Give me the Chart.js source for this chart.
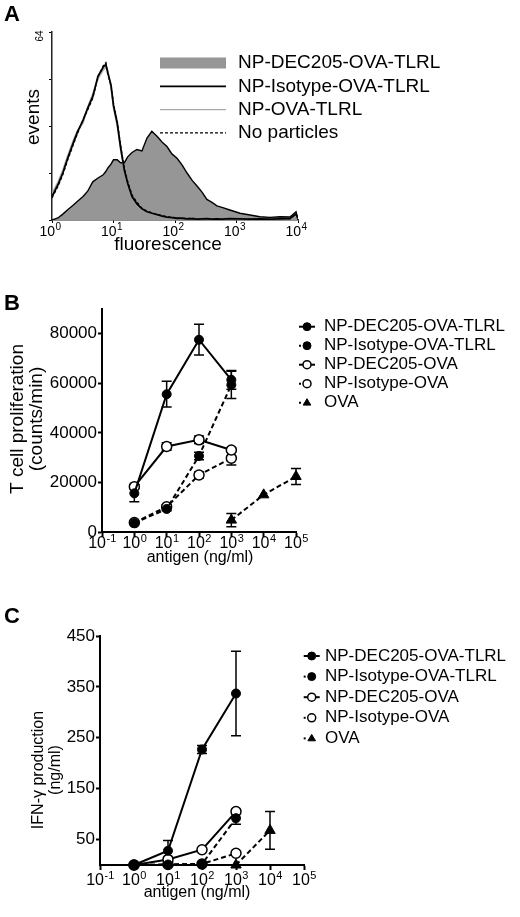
<!DOCTYPE html>
<html>
<head>
<meta charset="utf-8">
<script src="https://cdn.jsdelivr.net/npm/chart.js@4.4.1/dist/chart.umd.min.js"></script>
<style>
  body { margin: 0; background: #fff; }
  #fig { position: relative; width: 520px; height: 917px; font-family: "Liberation Sans", Arial, sans-serif; }
  canvas { position: absolute; left: 0; }
  .panel { position: absolute; left: 4px; font-weight: bold; font-size: 22px; line-height: 22px; }
</style>
</head>
<body>
<div id="fig">
  <canvas id="histA" width="520" height="260" style="top:0"></canvas>
  <canvas id="prolifB" width="520" height="328" style="top:262px"></canvas>
  <canvas id="ifnC" width="520" height="327" style="top:590px"></canvas>
  <div class="panel" style="top:3px">A</div>
  <div class="panel" style="top:292px">B</div>
  <div class="panel" style="top:605px">C</div>
</div>
<script>
const FONT = '"Liberation Sans", Arial, sans-serif';

// Panel A - histogram (fluorescence channel vs events)
const channels = [1, 1.25, 1.5, 1.8, 2.2, 2.6, 3.2, 3.8, 4.6, 5.6, 6.8, 7.5, 8.1, 9.1, 10, 11.5, 13, 15, 17, 20,
  24, 29, 35, 42, 51, 62, 74, 89, 108, 130, 157, 190, 230, 275, 330, 400, 480, 580, 780, 1140,
  1660, 2400, 3500, 5100, 7400, 9300, 10000];
const dec205TlrlEvents = [0, 0.7, 2, 3.5, 5, 6.4, 8, 9.8, 13, 14.3, 15.4, 16.5, 17.7, 19, 20.5, 20.5, 19.5, 19.5, 21.5, 23,
  24, 23.5, 27.9, 30.2, 28.5, 26.5, 25, 22.5, 21, 18.8, 16, 13.5, 11.5, 9.5, 7, 6, 4.8, 4.3, 3.4, 2.3,
  1.7, 1.1, 0.9, 1.1, 1.0, 2.8, 0];
const isoTlrlEvents = [8, 12, 16, 21, 26, 30, 34, 38, 42, 49, 52, 53, 50, 46, 39, 33, 25, 17, 12.5, 8,
  5.5, 3.8, 2.8, 2.3, 1.8, 1.3, 1.0, 0.8, 0.6, 0.6, 0.4, 0.5, 0.3, 0.4, 0.5, 0.3, 0.4, 0.3, 0.5, 0.4,
  0.3, 0.4, 0.3, 0.4, 0.5, 2, 0.5];
const ovaTlrlEvents = [9, 13, 17, 22, 27, 30.5, 33, 38.5, 43, 48, 51, 52, 51, 45, 38, 32, 24, 16.5, 12, 7.5,
  5, 3.5, 2.6, 2.1, 1.6, 1.2, 0.9, 0.7, 0.6, 0.5, 0.5, 0.4, 0.4, 0.3, 0.4, 0.4, 0.3, 0.4, 0.3, 0.4,
  0.3, 0.3, 0.4, 0.3, 0.4, 1.5, 0.4];
const noParticleEvents = [7.5, 11.5, 15.5, 20.5, 25.5, 29.5, 34, 37.5, 41.5, 48.5, 52.5, 53.5, 49.5, 45.5, 39.5, 33.5, 25.5, 17.5, 13, 8.5,
  6, 4, 3, 2.4, 1.9, 1.4, 1.1, 0.9, 0.7, 0.6, 0.5, 0.5, 0.4, 0.4, 0.3, 0.4, 0.3, 0.4, 0.4, 0.3,
  0.4, 0.3, 0.3, 0.4, 0.4, 1.8, 0.4];
const histLabels = ['NP-DEC205-OVA-TLRL', 'NP-Isotype-OVA-TLRL', 'NP-OVA-TLRL', 'No particles'];
const fluoTicks = [1, 10, 100, 1000, 10000];
const eventTicks = [0, 16, 32, 48, 64];

// Panels B and C - dose response
const seriesLabels = ['NP-DEC205-OVA-TLRL', 'NP-Isotype-OVA-TLRL', 'NP-DEC205-OVA', 'NP-Isotype-OVA', 'OVA'];
const doses = [1, 10, 100, 1000];
const ovaDosesB = [1000, 10000, 100000];
const ovaDosesC = [1000, 10000];
const doseTicks = [0.1, 1, 10, 100, 1000, 10000, 100000];

// B: T cell proliferation (counts/min)
const prolifDec205Tlrl = [15600, 55600, 77600, 61400];
const prolifDec205TlrlErr = [3400, 5200, 6200, 3800];
const prolifIsoTlrl = [3600, 9300, 30700, 59400];
const prolifIsoTlrlErr = [0, 700, 1500, 5500];
const prolifDec205 = [18300, 34500, 37200, 33100];
const prolifDec205Err = [800, 1500, 1500, 800];
const prolifIso = [3800, 10200, 23000, 29800];
const prolifIsoErr = [500, 800, 1200, 2800];
const prolifOva = [4800, 15000, 22400];
const prolifOvaErr = [2700, 0, 3200];
const prolifTicks = [0, 20000, 40000, 60000, 80000];

// C: IFN-gamma production (ng/ml)
const ifnDec205Tlrl = [0, 28, 227, 337];
const ifnDec205TlrlErr = [0, 20, 8, 83];
const ifnIsoTlrl = [0, 1, 2, 92];
const ifnIsoTlrlErr = [0, 0, 0, 12];
const ifnDec205 = [0, 11, 30, 105];
const ifnDec205Err = [0, 2, 2, 4];
const ifnIso = [0, 1, 2, 23];
const ifnIsoErr = [0, 0, 0, 3];
const ifnOva = [0, 68];
const ifnOvaErr = [0, 37];
const ifnTicks = [50, 150, 250, 350, 450];

Chart.defaults.font.family = FONT;
Chart.defaults.color = '#000';

// error bars drawn under the markers
const errorBars = {
  id: 'errorBars',
  beforeDatasetsDraw(chart) {
    const ctx = chart.ctx, xs = chart.scales.x, ys = chart.scales.y;
    ctx.save();
    ctx.strokeStyle = '#000';
    ctx.lineWidth = 1.5;
    chart.data.datasets.forEach(ds => {
      if (!ds.errors) return;
      ds.data.forEach((p, j) => {
        const e = ds.errors[j];
        if (!e) return;
        const x = xs.getPixelForValue(p.x);
        const top = ys.getPixelForValue(p.y + e);
        const bot = ys.getPixelForValue(Math.max(p.y - e, 0));
        ctx.beginPath();
        ctx.moveTo(x, top); ctx.lineTo(x, bot);
        ctx.moveTo(x - 5, top); ctx.lineTo(x + 5, top);
        ctx.moveTo(x - 5, bot); ctx.lineTo(x + 5, bot);
        ctx.stroke();
      });
    });
    ctx.restore();
  }
};

// 10^n tick labels on the log axes
const powerTicks = {
  id: 'powerTicks',
  afterDraw(chart, args, o) {
    const scale = chart.scales.x, ctx = chart.ctx;
    const base = o.size + 'px ' + FONT, sup = o.sup + 'px ' + FONT;
    ctx.save();
    ctx.fillStyle = '#000';
    ctx.textBaseline = 'alphabetic';
    ctx.textAlign = 'left';
    scale.ticks.forEach(t => {
      const exp = String(Math.round(Math.log10(t.value)));
      const px = scale.getPixelForValue(t.value);
      ctx.font = base;
      const wb = ctx.measureText('10').width;
      ctx.font = sup;
      const we = ctx.measureText(exp).width;
      const start = px - (wb + we) / 2 + (o.shift || 0);
      ctx.font = base;
      ctx.fillText('10', start, o.y);
      ctx.font = sup;
      ctx.fillText(exp, start + wb + 0.5, o.y - o.raise);
    });
    ctx.restore();
  }
};

// free text: axis titles etc.
const figText = {
  id: 'figText',
  afterDraw(chart, args, o) {
    const ctx = chart.ctx;
    o.items.forEach(it => {
      ctx.save();
      ctx.fillStyle = '#000';
      ctx.font = it.size + 'px ' + FONT;
      ctx.textAlign = 'center';
      ctx.textBaseline = 'middle';
      ctx.translate(it.x, it.y);
      if (it.rot) ctx.rotate(it.rot * Math.PI / 180);
      ctx.fillText(it.text, 0, 0);
      ctx.restore();
    });
  }
};

function drawMarker(ctx, ds, x, y, r) {
  ctx.fillStyle = ds.pointBackgroundColor;
  ctx.strokeStyle = ds.pointBorderColor;
  ctx.lineWidth = ds.pointBorderWidth;
  ctx.setLineDash([]);
  ctx.beginPath();
  if (ds.pointStyle === 'triangle') {
    ctx.moveTo(x, y - r);
    ctx.lineTo(x + r * 0.95, y + r * 0.6);
    ctx.lineTo(x - r * 0.95, y + r * 0.6);
    ctx.closePath();
  } else {
    ctx.arc(x, y, r, 0, Math.PI * 2);
  }
  ctx.fill();
  ctx.stroke();
}

// legend with line + marker (B, C)
const markerLegend = {
  id: 'markerLegend',
  afterDraw(chart, args, o) {
    const ctx = chart.ctx;
    chart.data.datasets.forEach((ds, i) => {
      const y = o.y + i * o.step;
      const dashed = ds.borderDash.length > 0;
      ctx.save();
      ctx.strokeStyle = '#000';
      ctx.lineWidth = 2;
      ctx.beginPath();
      if (dashed) {
        ctx.moveTo(o.x - 8, y); ctx.lineTo(o.x - 6, y);
      } else {
        ctx.moveTo(o.x - 8, y); ctx.lineTo(o.x + 8, y);
      }
      ctx.stroke();
      drawMarker(ctx, ds, o.x, y, o.radius);
      ctx.fillStyle = '#000';
      ctx.font = o.size + 'px ' + FONT;
      ctx.textBaseline = 'middle';
      ctx.textAlign = 'left';
      ctx.fillText(ds.label, o.textX, y);
      ctx.restore();
    });
  }
};

// legend with swatches (A)
const swatchLegend = {
  id: 'swatchLegend',
  afterDraw(chart, args, o) {
    const ctx = chart.ctx;
    chart.data.datasets.forEach((ds, i) => {
      const y = o.y + i * o.step;
      ctx.save();
      if (ds.fill) {
        ctx.fillStyle = ds.backgroundColor;
        ctx.fillRect(o.x0, y - 5.5, o.x1 - o.x0, 11);
      } else {
        ctx.strokeStyle = ds.borderColor;
        ctx.lineWidth = ds.borderWidth;
        ctx.setLineDash(ds.borderDash || []);
        ctx.beginPath();
        ctx.moveTo(o.x0, y); ctx.lineTo(o.x1, y);
        ctx.stroke();
      }
      ctx.fillStyle = '#000';
      ctx.font = o.size + 'px ' + FONT;
      ctx.textBaseline = 'middle';
      ctx.fillText(ds.label, o.textX, y);
      ctx.restore();
    });
  }
};

function fixedTicks(list) {
  return s => { s.ticks = list.map(v => ({ value: v })); };
}

function axisGrid(len, w) {
  return { display: true, drawOnChartArea: false, drawTicks: true, tickLength: len, tickWidth: w, tickColor: '#000' };
}

function histSeries(label, values, extra) {
  return Object.assign({
    label: label,
    data: channels.map((c, i) => ({ x: c, y: values[i] })),
    borderColor: '#000',
    borderWidth: 1.4,
    borderDash: [],
    pointRadius: 0,
    tension: 0,
    fill: false
  }, extra);
}

function doseSeries(xsList, ysList, errList) {
  return seriesLabels.map((label, i) => {
    const solid = i === 0 || i === 2;
    const open = i === 2 || i === 3;
    const tri = i === 4;
    return {
      label: label,
      data: xsList[i].map((x, j) => ({ x: x, y: ysList[i][j] })),
      errors: errList[i],
      borderColor: '#000',
      borderWidth: 2,
      borderDash: solid ? [] : [5, 3],
      pointStyle: tri ? 'triangle' : 'circle',
      pointRadius: open ? 5 : (tri ? 6 : 4.5),
      pointBackgroundColor: open ? '#fff' : '#000',
      pointBorderColor: '#000',
      pointBorderWidth: open ? 1.5 : 1,
      tension: 0,
      fill: false,
      clip: false
    };
  });
}

const common = {
  responsive: false,
  animation: false,
  devicePixelRatio: 1,
  events: []
};

// Panel A
new Chart(document.getElementById('histA'), {
  type: 'line',
  data: {
    datasets: [
      histSeries(histLabels[0], dec205TlrlEvents, { fill: 'origin', backgroundColor: 'rgb(150,150,150)', order: 2 }),
      histSeries(histLabels[1], isoTlrlEvents, { order: 1, borderWidth: 1.8 }),
      histSeries(histLabels[2], ovaTlrlEvents, { borderColor: 'rgb(170,170,170)', order: 1 }),
      histSeries(histLabels[3], noParticleEvents, { borderDash: [3, 2], order: 1 })
    ]
  },
  options: Object.assign({}, common, {
    layout: { padding: { left: 52, top: 32, right: 222, bottom: 40 } },
    plugins: {
      legend: { display: false },
      tooltip: { enabled: false },
      powerTicks: { y: 236, size: 14, sup: 10, raise: 6, shift: -2 },
      swatchLegend: { x0: 160, x1: 226, textX: 238, y: 63, step: 23.3, size: 19 },
      figText: { items: [
        { text: 'events', x: 34, y: 117, rot: -90, size: 19 },
        { text: 'fluorescence', x: 168, y: 245, size: 19 },
        { text: '64', x: 40, y: 36, rot: -90, size: 10 }
      ] }
    },
    scales: {
      x: {
        type: 'logarithmic', min: 1, max: 10000,
        afterBuildTicks: fixedTicks(fluoTicks),
        afterFit: s => { s.height = 0; },
        ticks: { display: false },
        grid: axisGrid(3, 1),
        border: { display: true, color: '#222', width: 1.5 }
      },
      y: {
        min: 0, max: 64,
        afterBuildTicks: fixedTicks(eventTicks),
        afterFit: s => { s.width = 0; },
        ticks: { display: false },
        grid: axisGrid(3, 1),
        border: { display: true, color: '#222', width: 1.5 }
      }
    }
  }),
  plugins: [powerTicks, swatchLegend, figText]
});

// Panel B
new Chart(document.getElementById('prolifB'), {
  type: 'line',
  data: {
    datasets: doseSeries(
      [doses, doses, doses, doses, ovaDosesB],
      [prolifDec205Tlrl, prolifIsoTlrl, prolifDec205, prolifIso, prolifOva],
      [prolifDec205TlrlErr, prolifIsoTlrlErr, prolifDec205Err, prolifIsoErr, prolifOvaErr]
    )
  },
  options: Object.assign({}, common, {
    layout: { padding: { left: 0, top: 47, right: 224, bottom: 58 } },
    plugins: {
      legend: { display: false },
      tooltip: { enabled: false },
      powerTicks: { y: 286, size: 16, sup: 11, raise: 6 },
      markerLegend: { x: 307, textX: 324, y: 64.7, step: 19, radius: 4, size: 17 },
      figText: { items: [
        { text: 'T cell proliferation', x: 18, y: 157, rot: -90, size: 19 },
        { text: '(counts/min)', x: 37, y: 157, rot: -90, size: 19 },
        { text: 'antigen (ng/ml)', x: 200, y: 296, size: 16 }
      ] }
    },
    scales: {
      x: {
        type: 'logarithmic', min: 0.1, max: 100000,
        afterBuildTicks: fixedTicks(doseTicks),
        afterFit: s => { s.height = 0; },
        ticks: { display: false },
        grid: axisGrid(5, 2),
        border: { display: true, color: '#000', width: 2 }
      },
      y: {
        min: 0, max: 90000,
        afterBuildTicks: fixedTicks(prolifTicks),
        afterFit: s => { s.width = 102; },
        ticks: { font: { size: 17 }, color: '#000', padding: 1, callback: v => String(v) },
        grid: axisGrid(4, 2),
        border: { display: true, color: '#000', width: 2 }
      }
    }
  }),
  plugins: [errorBars, powerTicks, markerLegend, figText]
});

// Panel C
new Chart(document.getElementById('ifnC'), {
  type: 'line',
  data: {
    datasets: doseSeries(
      [doses, doses, doses, doses, ovaDosesC],
      [ifnDec205Tlrl, ifnIsoTlrl, ifnDec205, ifnIso, ifnOva],
      [ifnDec205TlrlErr, ifnIsoTlrlErr, ifnDec205Err, ifnIsoErr, ifnOvaErr]
    )
  },
  options: Object.assign({}, common, {
    layout: { padding: { left: 0, top: 46, right: 216, bottom: 52 } },
    plugins: {
      legend: { display: false },
      tooltip: { enabled: false },
      powerTicks: { y: 295, size: 16, sup: 11, raise: 6 },
      markerLegend: { x: 311.7, textX: 325, y: 66, step: 20.6, radius: 4, size: 17 },
      figText: { items: [
        { text: 'IFN-\u03b3 production', x: 39, y: 180, rot: -90, size: 16 },
        { text: '(ng/ml)', x: 56, y: 180, rot: -90, size: 16 },
        { text: 'antigen (ng/ml)', x: 197, y: 303, size: 16 }
      ] }
    },
    scales: {
      x: {
        type: 'logarithmic', min: 0.1, max: 100000,
        afterBuildTicks: fixedTicks(doseTicks),
        afterFit: s => { s.height = 0; },
        ticks: { display: false },
        grid: axisGrid(5, 2),
        border: { display: true, color: '#000', width: 2 }
      },
      y: {
        min: 0, max: 450,
        afterBuildTicks: fixedTicks(ifnTicks),
        afterFit: s => { s.width = 100; },
        ticks: { font: { size: 17 }, color: '#000', padding: 1, callback: v => String(v) },
        grid: axisGrid(4, 2),
        border: { display: true, color: '#000', width: 2 }
      }
    }
  }),
  plugins: [errorBars, powerTicks, markerLegend, figText]
});
</script>
</body>
</html>
